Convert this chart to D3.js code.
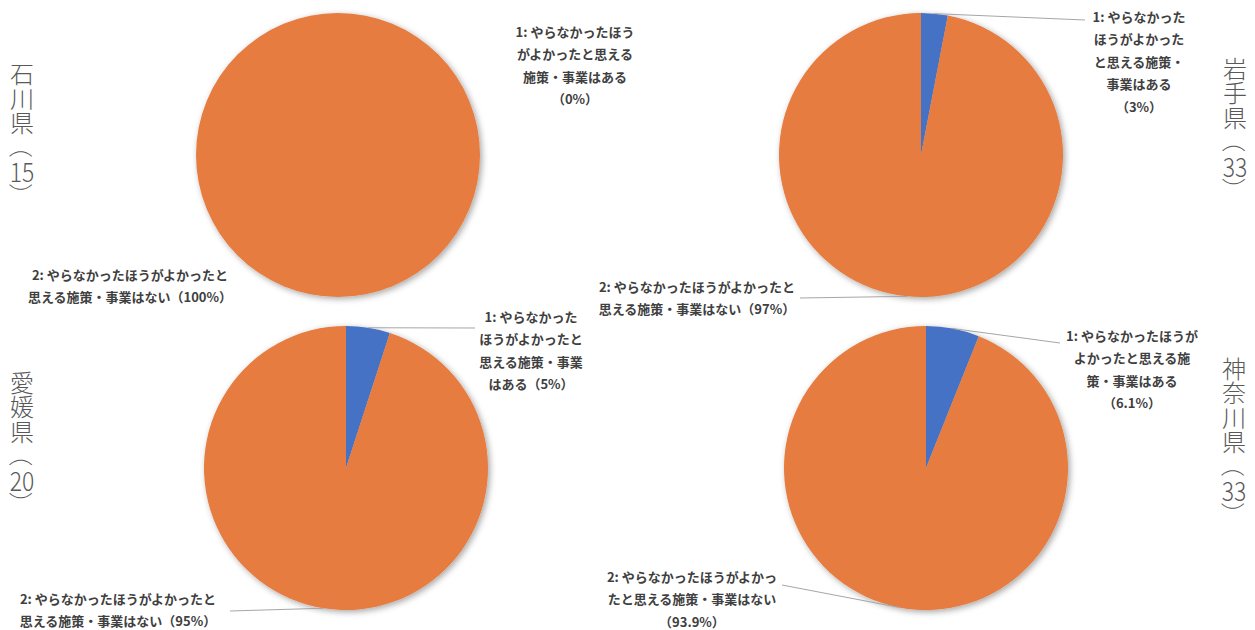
<!DOCTYPE html>
<html>
<head>
<meta charset="utf-8">
<script src="https://cdn.jsdelivr.net/npm/d3@7"></script>
<style>
  body { margin: 0; background: #fff; }
  svg { display: block; }
  .lbl { font-family: "Noto Sans CJK JP", "Noto Sans", sans-serif; font-size: 13px; font-weight: 700; fill: #404040; }
  .pref { font-family: "Noto Sans CJK JP", "Noto Sans", sans-serif; font-weight: 300; fill: #595959; }
</style>
</head>
<body>
<div id="chart"></div>
<script>
// data
const prefNames = ["石川県", "岩手県", "愛媛県", "神奈川県"];
const respondents = [15, 33, 20, 33];
const answer1Counts = [0, 1, 1, 2];   // 1: やらなかったほうがよかったと思える施策・事業はある
const answer2Counts = [15, 32, 19, 31]; // 2: ... はない
const answer1Pct = ["0%", "3%", "5%", "6.1%"];
const answer2Pct = ["100%", "97%", "95%", "93.9%"];
const sliceColors = ["#4472C4", "#E67B40"];

// label text, broken the way the reference wraps it
const answer1Lines = [
  ["1: やらなかったほう", "がよかったと思える", "施策・事業はある", "（" + answer1Pct[0] + "）"],
  ["1: やらなかった", "ほうがよかった", "と思える施策・", "事業はある", "（" + answer1Pct[1] + "）"],
  ["1: やらなかった", "ほうがよかったと", "思える施策・事業", "はある（" + answer1Pct[2] + "）"],
  ["1: やらなかったほうが", "よかったと思える施", "策・事業はある", "（" + answer1Pct[3] + "）"]
];
const answer2Lines = [
  ["2: やらなかったほうがよかったと", "思える施策・事業はない（" + answer2Pct[0] + "）"],
  ["2: やらなかったほうがよかったと", "思える施策・事業はない（" + answer2Pct[1] + "）"],
  ["2: やらなかったほうがよかったと", "思える施策・事業はない（" + answer2Pct[2] + "）"],
  ["2: やらなかったほうがよかっ", "たと思える施策・事業はない", "（" + answer2Pct[3] + "）"]
];

const width = 1255, height = 630, radius = 142, lineH = 22.5;

// where each pie and its labels sit
const layout = [
  { cx: 338, cy: 155, nameX: 22, nameY: 72.5,
    l1: { x: 575, y: 31, end: null }, l2: { x: 130, y: 274, end: null } },
  { cx: 921, cy: 155, nameX: 1235, nameY: 67,
    l1: { x: 1139, y: 16, end: [1085, 20] }, l2: { x: 697, y: 286, end: [800, 298] } },
  { cx: 346, cy: 468, nameX: 22, nameY: 381,
    l1: { x: 531, y: 316, end: [475, 328] }, l2: { x: 118, y: 598, end: [230, 611] } },
  { cx: 926, cy: 468, nameX: 1234, nameY: 367,
    l1: { x: 1132, y: 335, end: [1060, 343] }, l2: { x: 692, y: 576, end: [782, 585] } }
];

const svg = d3.select("#chart").append("svg")
  .attr("width", width)
  .attr("height", height);

const defs = svg.append("defs");
defs.append("filter")
  .attr("id", "shadow")
  .attr("x", "-10%").attr("y", "-10%").attr("width", "120%").attr("height", "120%")
  .append("feDropShadow")
  .attr("dx", 2).attr("dy", 2)
  .attr("stdDeviation", 3)
  .attr("flood-color", "#000")
  .attr("flood-opacity", 0.35);

const pie = d3.pie().sort(null).value(d => d);
const arc = d3.arc().innerRadius(0).outerRadius(radius);
const edgeArc = d3.arc().innerRadius(radius).outerRadius(radius);

prefNames.forEach((name, i) => {
  const L = layout[i];
  const arcs = pie([answer1Counts[i], answer2Counts[i]]);
  const g = svg.append("g").attr("transform", `translate(${L.cx},${L.cy})`);

  g.append("g")
    .attr("filter", "url(#shadow)")
    .selectAll("path")
    .data(arcs)
    .join("path")
    .attr("d", arc)
    .attr("fill", (d, j) => sliceColors[j]);

  // leader lines
  [L.l1, L.l2].forEach((lab, j) => {
    if (!lab.end || arcs[j].value === 0) return;
    const p = edgeArc.centroid(arcs[j]);
    svg.append("line")
      .attr("x1", L.cx + p[0]).attr("y1", L.cy + p[1])
      .attr("x2", lab.end[0]).attr("y2", lab.end[1])
      .attr("stroke", "#a6a6a6")
      .attr("stroke-width", 1);
  });

  // data labels
  [[L.l1, answer1Lines[i]], [L.l2, answer2Lines[i]]].forEach(([lab, lines]) => {
    svg.append("g").selectAll("text")
      .data(lines)
      .join("text")
      .attr("class", "lbl")
      .attr("x", lab.x)
      .attr("y", (d, k) => lab.y + k * lineH)
      .attr("text-anchor", "middle")
      .attr("dominant-baseline", "central")
      .text(d => d);
  });

  // vertical prefecture name with count; brackets turned sideways
  const glyphs = name.split("").concat(["（", String(respondents[i]), "）"]);
  const gy = k => L.nameY + k * 24.5;
  svg.append("g").selectAll("text")
    .data(glyphs)
    .join("text")
    .attr("class", "pref")
    .attr("x", L.nameX)
    .attr("y", (d, k) => gy(k))
    .attr("text-anchor", "middle")
    .attr("dominant-baseline", "central")
    .attr("font-size", d => /\d/.test(d) ? 27 : 24)
    .attr("transform", (d, k) => {
      if (/\d/.test(d)) return `translate(${L.nameX * 0.15},0) scale(0.85,1)`;
      if (d === "（" || d === "）") return `rotate(90,${L.nameX},${gy(k)})`;
      return null;
    })
    .text(d => d);
});
</script>
</body>
</html>
